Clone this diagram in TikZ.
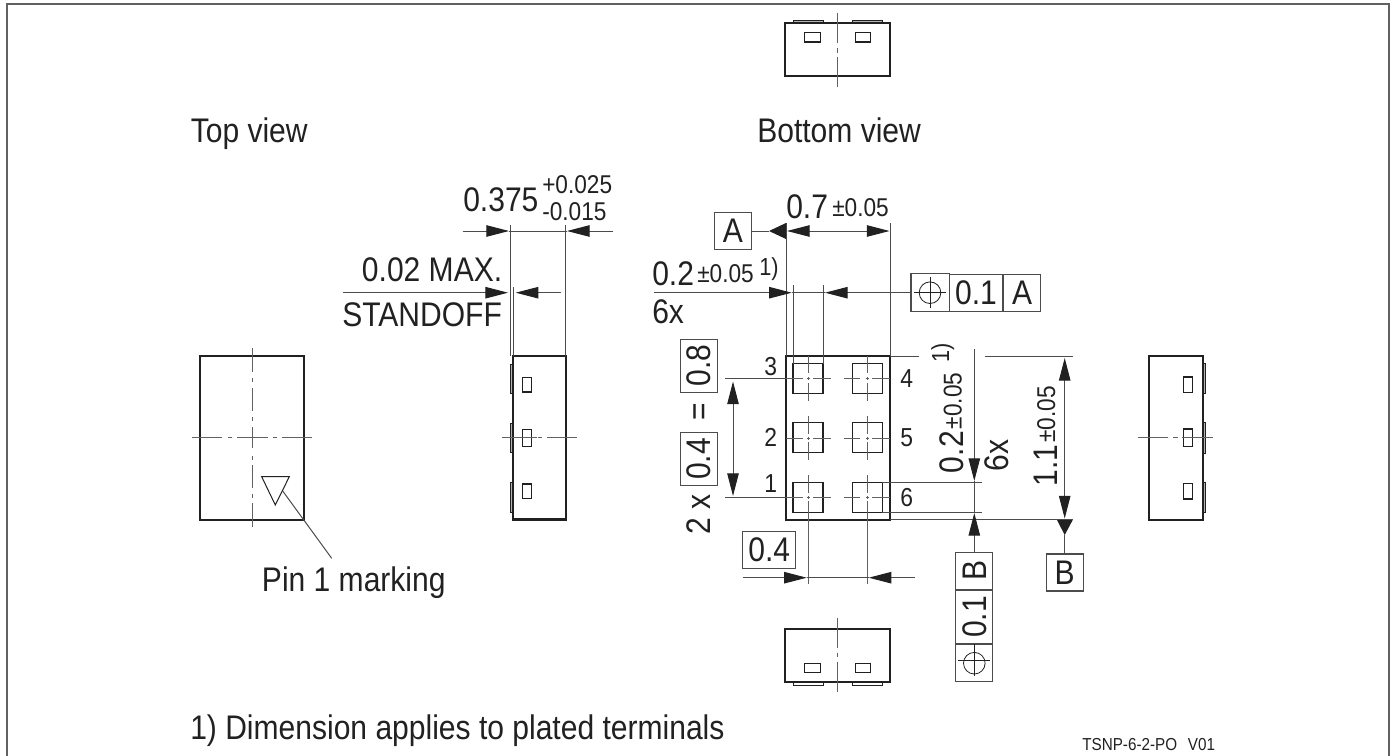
\documentclass[tikz,border=0pt]{standalone}
\usepackage{fontspec}
\setmainfont[FakeStretch=0.88]{Liberation Sans}
\usetikzlibrary{arrows.meta}
\newcommand{\fs}[1]{\fontsize{#1}{#1}\selectfont}
\definecolor{ink}{gray}{0.13}
\definecolor{thin}{gray}{0.3}
\definecolor{cen}{gray}{0.38}
\tikzset{
  pkg/.style={draw=ink,line width=1.7pt,fill=none},
  pad/.style={draw=ink,line width=1pt},
  plate/.style={draw=ink,line width=0.6pt,fill=black!30},
  cl/.style={draw=cen,line width=0.75pt},
  dimline/.style={draw=thin,line width=0.75pt},
  ptr/.style={-{Triangle[length=17pt,width=8.6pt,color=ink]}},
  ptrs/.style={{Triangle[length=17pt,width=8.6pt,color=ink]}-{Triangle[length=17pt,width=8.6pt,color=ink]}},
  txt/.style={inner sep=0pt,anchor=base west,text=ink,font=\fs{25.6pt}},
  tol/.style={inner sep=0pt,anchor=base west,text=ink,font=\fs{19.3pt}},
  small/.style={inner sep=0pt,anchor=base west,text=ink,font=\fs{18.5pt}},
  pinno/.style={inner sep=0pt,text=ink,font=\fs{19.5pt}},
  rtxt/.style={txt,rotate=90},
  rtol/.style={tol,rotate=90},
  framebox/.style={draw=thin,line width=0.9pt,inner sep=0pt,text=ink,font=\fs{25.6pt}},
  framecell/.style={framebox,minimum width=27.75pt,minimum height=27.75pt},
}
\begin{document}
\begin{tikzpicture}[x=0.75pt,y=-0.75pt]
\useasboundingbox (0,0) rectangle (1395,756);
% frame
\draw[draw=cen,line width=1.5pt] (6.5,756) -- (6.5,4) -- (1389,4) -- (1389,756);

% ---------- top view
\draw[pkg] (200,356) rectangle (304.3,520);
\foreach \a/\b in {348/372,378/382,388/411,417/421,427/448,456/460,465/488,494/498,503/527}
  \draw[cl] (252,\a) -- (252,\b);
\foreach \a/\b in {192/222,228/232,237/268,273/277,282/312}
  \draw[cl] (\a,437.7) -- (\b,437.7);
\draw[draw=ink,line width=0.75pt] (261.7,476.7) -- (289.3,476.7) -- (275.3,505) -- cycle;
\coordinate (leadA) at (282.7,491);
\coordinate (leadB) at (331.7,558.3);
\draw[dimline] (leadA) -- (leadB);
\node[txt] (topv) at (190.5,143) {Top view};
\node[txt] (botv) at (757,143) {Bottom view};
\node[txt] (pin1) at (261.7,591.7) {Pin 1 marking};
\node[txt] (note) at (190,739) {1) Dimension applies to plated terminals};
\node[inner sep=0pt,anchor=base west,text=ink,font=\fs{13pt}] (code) at (1082,750) {TSNP-6-2-PO\hspace{8pt}V01};

% ---------- left side view
\foreach \a/\b in {364/393.3,423.3/452.7,482.7/512.3}
  \draw[plate] (510,\a) rectangle (512.7,\b);
\draw[pkg] (512.7,356) rectangle (566,519.5);
\foreach \a/\b in {377.3/392,429.3/446.7,484/498.7}
  \draw[pad] (522.3,\a) rectangle (531.3,\b);
\foreach \a/\b in {502.3/537,538/542,547/576.7}
  \draw[cl] (\a,437.7) -- (\b,437.7);
% 0.375 dimension
\draw[dimline] (510,225) -- (510,356);
\draw[dimline] (565.7,225) -- (565.7,356);
\coordinate (d375a) at (462.7,231);
\coordinate (d375b) at (509,231);
\coordinate (d375c) at (613.3,231);
\coordinate (d375d) at (567,231);
\draw[dimline,ptr] (d375a) -- (d375b);
\draw[dimline,ptr] (d375c) -- (d375d);
\draw[dimline] (d375b) -- (d375d);
\node[txt] (t375) at (463,211.7) {0.375};
\node[tol] (t375p) at (542,194) {+0.025};
\node[tol] (t375m) at (542,220) {-0.015};
% standoff
\draw[dimline] (513.3,287) -- (513.3,356);
\coordinate (d02a) at (342.7,292.7);
\coordinate (d02b) at (508,292.7);
\coordinate (d02c) at (560.7,292.7);
\coordinate (d02d) at (515.7,292.7);
\draw[dimline,ptr] (d02a) -- (d02b);
\draw[dimline,ptr] (d02c) -- (d02d);
\node[txt] (t02) at (361.7,281.7) {0.02 MAX.};
\node[txt] (tsd) at (342,326.7) {STANDOFF};

% ---------- top and bottom projections
\foreach \x/\w in {793/823.3,852.3/882.3}{
  \draw[plate] (\x,20.3) rectangle (\w,23);
  \draw[plate,fill=white] (\x,682) rectangle (\w,685);
}
\draw[pkg] (785.3,23) rectangle (890,76.3);
\draw[pkg] (785.3,628.7) rectangle (890,682);
\foreach \x/\w in {804.7/820.3,855.3/870.7}{
  \draw[pad] (\x,32.7) rectangle (\w,42);
  \draw[pad] (\x,663.3) rectangle (\w,672.7);
}
\foreach \a/\b in {13.3/43.3,48.3/52.7,57.3/87.3,618.3/648.3,652.7/657.3,661.7/692.3}
  \draw[cl] (837.7,\a) -- (837.7,\b);

% ---------- right side view
\foreach \a/\b in {363.7/393.7,422.7/453,482.3/512.3}
  \draw[plate] (1202.7,\a) rectangle (1205.5,\b);
\draw[pkg] (1149,356) rectangle (1202.7,520);
\foreach \a/\b in {377/392.3,429/446.7,483.7/499}
  \draw[pad] (1183.7,\a) rectangle (1192.7,\b);
\foreach \a/\b in {1138.3/1168.3,1173/1177.7,1182.3/1212.7}
  \draw[cl] (\a,437.7) -- (\b,437.7);

% ---------- bottom view, main
\draw[pkg] (785.7,356) rectangle (890,520);
\foreach \x in {793,852.3}\foreach \y in {363.7,422.7,482.3}
  \draw[pad] (\x,\y) rectangle ++(30,30);
% centre lines of terminals
\foreach \y in {378.7,438,497}{
  \draw[cl] (786,\y) -- (803,\y); \draw[cl] (806.5,\y) -- (809.5,\y); \draw[cl] (813,\y) -- (830.7,\y);
  \draw[cl] (844.3,\y) -- (860,\y); \draw[cl] (866,\y) -- (869,\y); \draw[cl] (872,\y) -- (890,\y);
}
\foreach \x in {808,867.5}{
  \draw[cl] (\x,356) -- (\x,373.3); \draw[cl] (\x,377) -- (\x,380); \draw[cl] (\x,383) -- (\x,401);
  \draw[cl] (\x,416) -- (\x,434); \draw[cl] (\x,436.5) -- (\x,439.5); \draw[cl] (\x,442) -- (\x,460);
  \draw[cl] (\x,475) -- (\x,493); \draw[cl] (\x,495.5) -- (\x,498.5); \draw[cl] (\x,501) -- (\x,584.3);
}
\node[pinno] (n3) at (770.7,366.3) {3};
\node[pinno] (n4) at (906.7,379) {4};
\node[pinno] (n2) at (770.7,437.7) {2};
\node[pinno] (n5) at (906.7,437.7) {5};
\node[pinno] (n1) at (770.7,484) {1};
\node[pinno] (n6) at (906.7,497.3) {6};

% 0.7 dimension and datum A
\draw[dimline] (786,223) -- (786,356);
\draw[dimline] (890,223) -- (890,356);
\coordinate (d07a) at (787,231);
\coordinate (d07b) at (889.5,231);
\draw[dimline,ptrs] (d07a) -- (d07b);
\node[framecell] (boxA) at (733,231) {A};
\fill[ink] (769,231) -- (786,223) -- (786,239) -- cycle;
\coordinate (dattipA) at (769,231);
\draw[dimline] (boxA) -- (dattipA);
\node[txt] (t07) at (786,219) {0.7};
\node[tol] (t07t) at (832,216) {±0.05};

% 0.2 terminal width
\draw[dimline] (793.3,285) -- (793.3,364);
\draw[dimline] (823,285) -- (823,364);
\node[framecell] (fc1) at (930,292.7) {};
\node[framebox,minimum width=39.5pt,minimum height=27.75pt,anchor=west] (fc2) at (fc1.east) {0.1};
\node[framecell,anchor=west] (fc3) at (fc2.east) {A};
\coordinate (d02w) at (654,292.7);
\coordinate (d02x) at (791.7,292.7);
\coordinate (d02y) at (825,292.7);
\draw[dimline,ptr] (d02w) -- (d02x);
\draw[dimline,ptr] (fc1) -- (d02y);
\draw[dimline] (d02x) -- (d02y);
\fill[white] (fc1.north west) rectangle (fc1.south east);
\draw[draw=thin,line width=0.9pt] (fc1.north west) rectangle (fc1.south east);
\draw[draw=ink,line width=0.6pt] (fc1) circle [radius=10.8];
\draw[draw=ink,line width=0.6pt] (914,292.7) -- (946,292.7) (930,277) -- (930,308);
\node[txt] (t02w) at (652,285) {0.2};
\node[tol] (t02t) at (697,282.7) {±0.05};
\node[small] (t02n) at (759,275) {1)};
\node[txt] (t6x) at (652,323) {6x};

% 0.8 pitch dimension
\draw[dimline] (725,378.7) -- (786,378.7);
\draw[dimline] (725,497) -- (786,497);
\coordinate (d08a) at (733,381.5);
\coordinate (d08b) at (733,496);
\draw[dimline,ptrs] (d08a) -- (d08b);
\node[framebox,minimum width=27.75pt,minimum height=39.75pt] (b08) at (699.2,365.8) {\rotatebox{90}{0.8}};
\node[framebox,minimum width=27.75pt,minimum height=39.75pt] (b04) at (699.2,459) {\rotatebox{90}{0.4}};
\node[rtxt] (t2x) at (710.7,535) {2 x};
\node[rtxt] (teq) at (710.7,421) {=};

% 0.4 pitch dimension
\coordinate (d04a) at (742.7,577.7);
\coordinate (d04b) at (806.7,577.7);
\coordinate (d04c) at (915,577.7);
\coordinate (d04d) at (868.7,577.7);
\draw[dimline,ptr] (d04a) -- (d04b);
\draw[dimline,ptr] (d04c) -- (d04d);
\draw[dimline] (d04b) -- (d04d);
\node[framebox,minimum width=39.75pt,minimum height=27.75pt] (b04h) at (769.2,549.7) {0.4};

% 0.2 height of terminals, positional frame
\draw[dimline] (882.3,482.3) -- (982,482.3);
\draw[dimline] (882.3,512.3) -- (982,512.3);
\draw[dimline] (890,519.7) -- (1072.7,519.7);
\draw[dimline] (890,356) -- (918.7,356);
\draw[dimline] (985,356) -- (1072.7,356);
\coordinate (d02h) at (974.3,349);
\coordinate (d02i) at (974.3,481);
\coordinate (d02j) at (974.3,513);
\draw[dimline,ptr] (d02h) -- (d02i);
\draw[dimline] (d02i) -- (d02j);
\node[framecell] (vb) at (974.3,570.8) {\rotatebox{90}{B}};
\node[framebox,minimum width=27.75pt,minimum height=39.75pt,anchor=north] (v01) at (vb.south) {\rotatebox{90}{0.1}};
\node[framecell,anchor=north] (vc) at (v01.south) {};
\draw[dimline,ptr] (vb) -- (d02j);
\fill[white] (vb.north west) rectangle (vb.south east);
\node[framecell] at (vb) {\rotatebox{90}{B}};
\draw[draw=ink,line width=0.6pt] (vc) circle [radius=10.8];
\draw[draw=ink,line width=0.6pt] (958.3,660.3) -- (990.3,660.3) (974.3,644.3) -- (974.3,676.3);
\node[rtxt] (t02h) at (963.3,473.3) {0.2};
\node[rtol] (t02ht) at (961.7,429.3) {±0.05};
\node[small,rotate=90] (t02hn) at (949,363) {1)};
\node[rtxt] (t6xv) at (1008.3,471.7) {6x};

% 1.1 dimension and datum B
\coordinate (d11a) at (1064.7,358);
\coordinate (d11b) at (1064.7,518.5);
\draw[dimline,ptrs] (d11a) -- (d11b);
\node[framecell] (boxB) at (1064.7,572.5) {B};
\fill[ink] (1057,520) -- (1072.7,520) -- (1064.7,535) -- cycle;
\coordinate (dattipB) at (1064.7,535);
\draw[dimline] (boxB) -- (dattipB);
\node[rtxt] (t11) at (1057.3,486.7) {1.1};
\node[rtol] (t11t) at (1055,443) {±0.05};
\end{tikzpicture}
\end{document}
